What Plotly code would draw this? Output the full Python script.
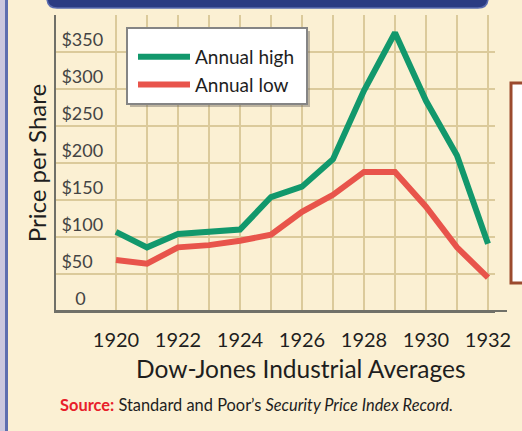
import plotly.graph_objects as go

years = list(range(1920, 1933))
annual_high = [107, 86, 104, 107, 110, 154, 168, 205, 298, 376, 284, 210, 91]
annual_low = [69, 64, 86, 89, 95, 103, 134, 157, 188, 188, 141, 86, 45]
y_tick_vals = [0, 50, 100, 150, 200, 250, 300, 350]
y_tick_text = ["\u00a0\u00a0\u00a00", "$50", "$100", "$150", "$200", "$250", "$300", "$350"]
x_tick_text = [str(y) if y % 2 == 0 else "" for y in years]

W, H = 522, 431
L, R, T, B = 56, 27, 15, 120
PW, PH = W - L - R, H - T - B
FONT = "Lato, Liberation Sans, Arial, sans-serif"

def px(x):
    return (x - L) / PW

def py(y):
    return (H - B - y) / PH

GREEN = "#12986c"
RED = "#e8544b"
CREAM = "#fbf0d3"
GRID = "#dbca9b"

fig = go.Figure()
fig.add_trace(go.Scatter(x=years, y=annual_high, mode="lines", name="Annual high",
                         line=dict(color=GREEN, width=6)))
fig.add_trace(go.Scatter(x=years, y=annual_low, mode="lines", name="Annual low",
                         line=dict(color=RED, width=6)))

shapes = []
# left border stripes
shapes.append(dict(type="rect", xref="paper", yref="paper", x0=px(0), x1=px(5), y0=py(431), y1=py(0),
                   fillcolor="#cac7de", line=dict(width=0), layer="below"))
shapes.append(dict(type="rect", xref="paper", yref="paper", x0=px(5), x1=px(8), y0=py(431), y1=py(0),
                   fillcolor="#5d6eaf", line=dict(width=0), layer="below"))
# header bar with rounded bottom corners
hx0, hx1, hy0, hy1, r = 47, 488, -12, 8, 10
path = (f"M {px(hx0)},{py(hy0)} L {px(hx0)},{py(hy1 - r)} "
        f"Q {px(hx0)},{py(hy1)} {px(hx0 + r)},{py(hy1)} "
        f"L {px(hx1 - r)},{py(hy1)} Q {px(hx1)},{py(hy1)} {px(hx1)},{py(hy1 - r)} "
        f"L {px(hx1)},{py(hy0)} Z")
shapes.append(dict(type="path", xref="paper", yref="paper", path=path,
                   fillcolor="#2b3b82", line=dict(color="#5a6bb0", width=1.5)))
# legend box shadow and box
shapes.append(dict(type="rect", xref="paper", yref="paper", x0=px(130), x1=px(310), y0=py(107), y1=py(31),
                   fillcolor="rgba(110,105,95,0.45)", line=dict(width=0), layer="above"))
shapes.append(dict(type="rect", xref="paper", yref="paper", x0=px(127), x1=px(307), y0=py(104), y1=py(28),
                   fillcolor="white", line=dict(color="#858585", width=2), layer="above"))
# right box (cut off)
shapes.append(dict(type="rect", xref="paper", yref="paper", x0=px(511), x1=px(540), y0=py(283), y1=py(83),
                   fillcolor="white", line=dict(color="#9b4a2e", width=3), layer="above"))
# bottom axis extension
shapes.append(dict(type="line", xref="paper", yref="paper", x0=px(56), x1=px(507), y0=0, y1=0,
                   line=dict(color="#707068", width=2)))

fig.update_layout(
    template="none",
    width=W, height=H,
    margin=dict(l=L, r=R, t=T, b=B, autoexpand=False),
    paper_bgcolor=CREAM, plot_bgcolor=CREAM,
    font=dict(family=FONT, color="#1e1e1e"),
    shapes=shapes,
    showlegend=True,
    legend=dict(x=px(133), y=py(38), xanchor="left", yanchor="top",
                bgcolor="rgba(0,0,0,0)", borderwidth=0,
                font=dict(size=19, family=FONT, color="#1e1e1e"),
                itemwidth=52, tracegroupgap=0),
    xaxis=dict(range=[1918.065, 1918.065 + PW / 31.0], tickvals=years, ticktext=x_tick_text,
               showgrid=True, gridcolor=GRID, gridwidth=1.5, showline=True, linecolor="#707068",
               linewidth=2, ticks="", zeroline=False, tickfont=dict(size=20, family=FONT),
               ticklabelstandoff=10, automargin=False),
    yaxis=dict(range=[0, PH / 0.74], tickvals=y_tick_vals, ticktext=y_tick_text,
               showgrid=True, gridcolor=GRID, gridwidth=1.5, showline=True, linecolor="#707068",
               linewidth=2, ticks="", zeroline=False, ticklabelposition="inside",
               ticklabelshift=-12, ticklabelstandoff=6, tickfont=dict(size=18, family=FONT),
               automargin=False,
               title=dict(text="Price per Share", font=dict(size=24, family=FONT), standoff=8)),
    annotations=[
        dict(text="Dow-Jones Industrial Averages", xref="paper", yref="paper",
             x=px(301), y=py(368), xanchor="center", yanchor="middle", showarrow=False,
             font=dict(size=24.5, family=FONT, color="#1e1e1e")),
        dict(text="<span style='color:#e8202a'><b>Source:</b></span> Standard and Poor\u2019s <i>Security Price Index Record.</i>",
             xref="paper", yref="paper", x=px(58), y=py(404), xanchor="left", yanchor="middle",
             showarrow=False, font=dict(size=16.4, family=FONT, color="#1e1e1e")),
    ],
)

fig.write_html("out.html", config={"displayModeBar": False},
               post_script="document.body.style.margin='0px';")
